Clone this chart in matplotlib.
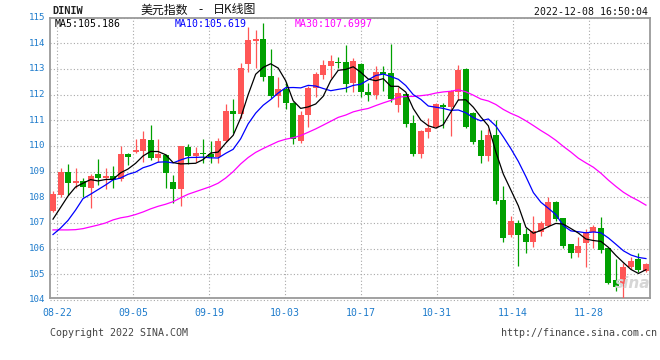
import matplotlib
matplotlib.use('Agg')
import matplotlib.pyplot as plt
import numpy as np
import pandas as pd

# ---------------- data ----------------
opens = [107.48, 108.09, 109.00, 108.55, 108.65, 108.38, 108.91, 108.74, 108.83, 108.70,
         109.69, 109.75, 109.82, 110.23, 109.55, 109.65, 108.61, 108.31, 109.97, 109.62,
         109.74, 109.68, 109.58, 110.19, 111.36, 111.26, 113.18, 114.10, 114.17, 112.73,
         111.96, 112.22, 111.66, 110.19, 111.21, 112.25, 112.77, 113.13, 113.29, 113.29,
         112.44, 113.19, 112.09, 111.99, 112.87, 112.86, 111.60, 112.04, 110.91, 109.69,
         110.56, 110.75, 111.58, 111.53, 112.12, 113.00, 111.27, 110.23, 109.62, 110.43,
         107.90, 106.53, 106.99, 106.57, 106.27, 106.66, 106.90, 107.81, 107.18, 106.17,
         105.84, 106.23, 106.64, 106.82, 106.01, 104.78, 104.61, 105.27, 105.58, 105.14]
highs = [108.26, 109.13, 109.30, 109.13, 108.74, 108.90, 109.49, 109.16, 109.23, 110.00,
         109.74, 110.27, 110.58, 110.82, 110.27, 109.68, 108.87, 110.00, 110.08, 109.97,
         110.27, 110.19, 110.30, 111.64, 111.83, 113.22, 114.65, 114.52, 114.78, 113.78,
         112.69, 112.51, 111.70, 111.38, 112.34, 112.90, 113.35, 113.55, 113.48, 113.94,
         113.44, 113.22, 112.44, 113.13, 113.13, 113.99, 112.31, 112.08, 111.21, 110.62,
         111.08, 111.69, 111.66, 112.18, 113.16, 113.05, 111.31, 110.62, 110.66, 111.01,
         108.44, 107.27, 107.12, 106.79, 107.27, 107.08, 108.03, 107.86, 107.21, 106.17,
         106.44, 106.77, 106.92, 107.25, 106.04, 105.58, 105.43, 105.66, 105.82, 105.45]
lows = [107.44, 108.03, 108.09, 108.38, 108.03, 107.57, 108.48, 108.32, 108.38, 108.65,
        109.26, 109.71, 109.39, 109.45, 109.39, 108.35, 107.79, 107.68, 109.31, 109.39,
        109.32, 109.32, 109.35, 110.17, 110.49, 111.08, 112.87, 113.05, 112.53, 111.88,
        111.52, 111.44, 110.06, 110.10, 110.75, 111.92, 112.61, 112.64, 113.03, 112.12,
        112.12, 111.92, 111.75, 111.83, 112.14, 111.73, 111.34, 110.75, 109.62, 109.55,
        110.30, 110.69, 110.69, 110.40, 111.79, 110.71, 110.06, 109.35, 109.43, 107.73,
        106.27, 106.47, 105.34, 105.84, 106.08, 106.51, 106.83, 107.08, 106.04, 105.62,
        105.69, 105.30, 106.04, 105.82, 104.61, 104.35, 104.06, 105.21, 105.08, 105.10]
closes = [108.13, 109.00, 108.55, 108.65, 108.42, 108.83, 108.74, 108.83, 108.68, 109.69,
          109.58, 109.84, 110.27, 109.55, 109.68, 108.96, 108.31, 110.00, 109.62, 109.74,
          109.68, 109.58, 110.19, 111.36, 111.26, 113.05, 114.13, 114.17, 112.70, 111.96,
          112.22, 111.66, 110.27, 111.21, 112.25, 112.79, 113.16, 113.31, 113.23, 112.42,
          113.31, 112.09, 111.99, 112.90, 112.82, 111.83, 112.08, 110.87, 109.68, 110.60,
          110.71, 111.62, 111.53, 112.14, 112.96, 110.75, 110.17, 109.62, 110.43, 107.87,
          106.43, 107.08, 106.53, 106.27, 106.69, 106.99, 107.81, 107.16, 106.12, 105.84,
          106.10, 106.66, 106.86, 105.95, 104.68, 104.52, 105.27, 105.53, 105.17, 105.40]

ma5_head = [107.15, 107.60, 108.05, 108.40]
ma10_head = [106.55, 106.80, 107.10, 107.50, 107.95, 108.12, 108.30, 108.48, 108.68]
ma30_head = [106.73, 106.73, 106.73, 106.74, 106.78, 106.85, 106.92, 107.00, 107.12, 107.20,
             107.25, 107.33, 107.43, 107.55, 107.65, 107.73, 107.83, 107.98, 108.12, 108.22,
             108.32, 108.42, 108.55, 108.75, 109.00, 109.30, 109.55, 109.75, 109.90]

date_labels = ["08-22", "09-05", "09-19", "10-03", "10-17", "10-31", "11-14", "11-28"]
y_ticks = [104, 105, 106, 107, 108, 109, 110, 111, 112, 113, 114, 115]
ma_labels = ["MA5:105.186", "MA10:105.619", "MA30:107.6997"]
title_code = "DINIW"
title_parts = ["美元指数", "-", "日K线图"]
timestamp = "2022-12-08 16:50:04"

# ---------------- derived ----------------
cl = pd.Series(closes)
def moving(n, head):
    m = cl.rolling(n).mean().to_numpy()
    m[:len(head)] = head
    return m
ma5 = moving(5, ma5_head)
ma10 = moving(10, ma10_head)
ma30 = moving(30, ma30_head)

# ---------------- figure ----------------
W, H = 660, 360
fig = plt.figure(figsize=(W / 100, H / 100), dpi=100)
L, R, T, B = 50, 650, 18.3, 298.3
ax = fig.add_axes([L / W, 1 - B / H, (R - L) / W, (B - T) / H])
ax.set_xlim(-0.4, 79.54)
ax.set_ylim(104.066, 114.974)

mono = 'DejaVu Sans Mono'
cjk = ['Noto Sans CJK SC', 'DejaVu Sans']
blue_lbl = '#1f7ccc'
grid_c = '#a8a8a8'
up_c = '#ff5656'
dn_c = '#00a000'

# grid
for v in y_ticks:
    ax.axhline(v, color=grid_c, lw=0.8, ls=(0, (1, 2)), zorder=1, clip_on=(v != 104))
tick_pos = np.linspace(0.57, 71.4, len(date_labels))
for p in tick_pos:
    ax.axvline(p, color=grid_c, lw=0.8, ls=(0, (1, 2)), zorder=1)

# watermark
fig.text(633 / W, 1 - 284 / H, "sina", fontsize=11, fontstyle='italic', fontweight='bold',
         color='#d6d6d6', ha='center', va='center', zorder=0.5)

# candles
x = np.arange(len(closes))
o = np.array(opens); c = np.array(closes); h = np.array(highs); lo = np.array(lows)
up = c >= o
cols = np.where(up, up_c, dn_c)
ax.vlines(x, lo, h, colors=cols, lw=0.9, zorder=3)
bottoms = np.minimum(o, c)
heights = np.maximum(np.abs(c - o), 0.045)
ax.bar(x, heights, bottom=bottoms, width=0.8, color=cols, linewidth=0, zorder=4)

# moving averages
ax.plot(x, ma30, color='#ff00ff', lw=0.9, zorder=5)
ax.plot(x, ma10, color='#0000ff', lw=0.9, zorder=6)
ax.plot(x, ma5, color='#000000', lw=0.9, zorder=7)

# frame
for s in ax.spines.values():
    s.set_color('#9a9a9a')
    s.set_linewidth(1.3)
ax.set_xticks([])
ax.set_yticks([])

# y labels
ytr = ax.get_yaxis_transform()
for v in y_ticks:
    ax.text(-5 / (R - L), v, str(v), transform=ytr, ha='right', va='center',
            fontsize=6.6, family=mono, color=blue_lbl, clip_on=False)

# x labels
xtr = ax.get_xaxis_transform()
for p, lab in zip(tick_pos, date_labels):
    ax.text(p, -(313 - B) / (B - T), lab, transform=xtr, ha='center', va='center',
            fontsize=7.1, family=mono, color=blue_lbl, clip_on=False)

# MA labels
for lab, xp, col in zip(ma_labels, [55, 175, 295], ['#000000', '#0000ff', '#ff00ff']):
    fig.text(xp / W, 1 - 24 / H, lab, fontsize=7.1, family=mono, color=col,
             ha='left', va='center')

# header
fig.text(52 / W, 1 - 11.5 / H, title_code, fontsize=7.4, family=mono, fontweight='bold',
         color='#222222', ha='left', va='center')
fig.text(140 / W, 1 - 10 / H, title_parts[0], fontsize=8.6, family=cjk, color='#111111',
         ha='left', va='center')
fig.text(200.5 / W, 1 - 10 / H, title_parts[1], fontsize=8.6, family=cjk, color='#111111',
         ha='center', va='center')
fig.text(213 / W, 1 - 10 / H, title_parts[2], fontsize=8.6, family=cjk, color='#111111',
         ha='left', va='center')
fig.text(648 / W, 1 - 12 / H, timestamp, fontsize=7.1, family=mono, color='#111111',
         ha='right', va='center')

# footer
fig.text(50 / W, 1 - 332.5 / H, "Copyright 2022 SINA.COM", fontsize=7.2, family=mono,
         color='#444444', ha='left', va='center')
fig.text(657 / W, 1 - 332.5 / H, "http://finance.sina.com.cn", fontsize=7.2, family=mono,
         color='#444444', ha='right', va='center')

fig.savefig('out.png', dpi=100, facecolor='white')
